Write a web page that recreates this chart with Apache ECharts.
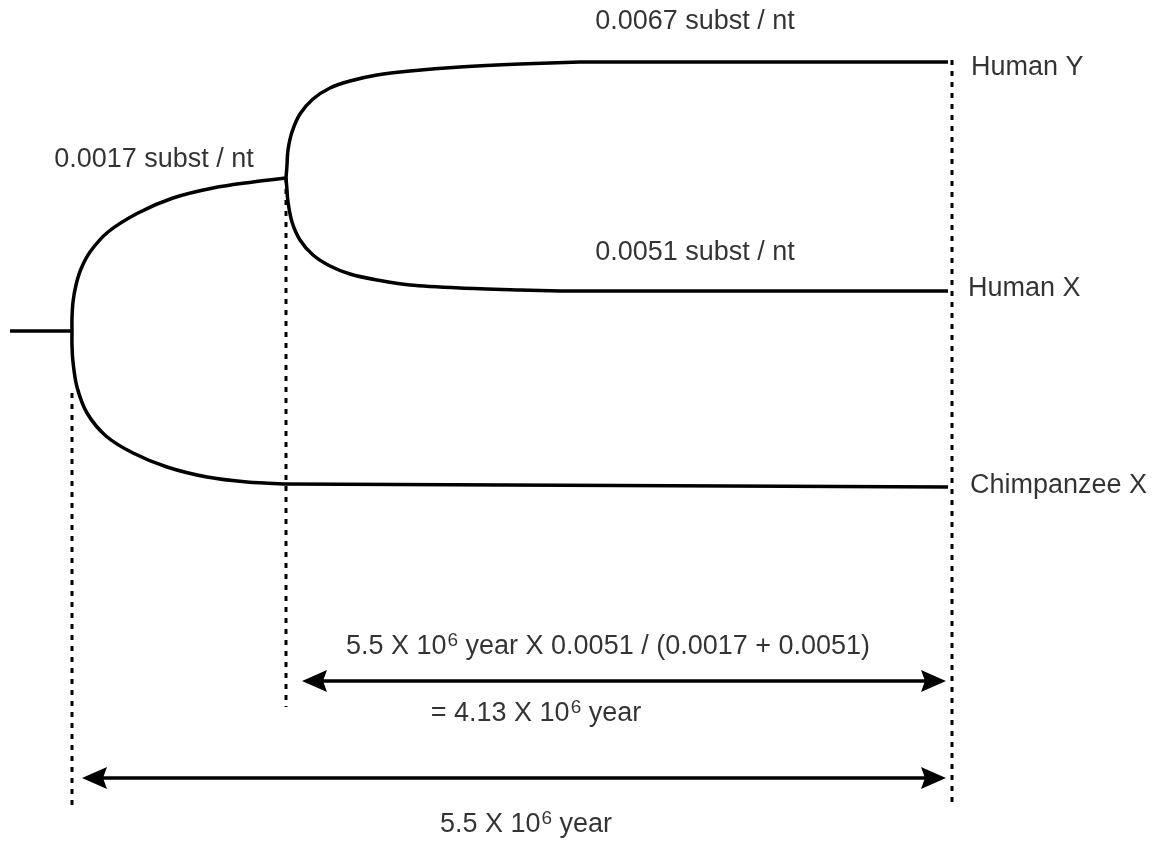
<!DOCTYPE html>
<html>
<head>
<meta charset="utf-8">
<script src="https://cdn.jsdelivr.net/npm/echarts@6/dist/echarts.min.js"></script>
<style>
  html, body { margin: 0; padding: 0; background: #fff; }
  #chart { width: 1162px; height: 843px; }
</style>
</head>
<body>
<div id="chart"></div>
<script>
// ---- data (diagram units: x across, y down) ----
const taxa = ['Human Y', 'Human X', 'Chimpanzee X'];
const substPerNt = ['0.0067', '0.0051', '0.0017']; // Human Y branch, Human X branch, ancestral branch
const splitTimeMy = '5.5';
const humanXYTimeMy = '4.13';

const rootStem = [[10, 331], [72, 331]];
const branchAncestral = [[72, 331], [72, 318], [73, 302], [76, 285], [81, 269], [90, 252], [108, 232], [138, 213], [173, 198], [213, 188], [253, 182], [286, 178]];
const branchChimpCurve = [[72, 331], [72, 345], [73, 362], [77, 387], [87, 413], [106, 436], [133, 453], [167, 467], [207, 477], [247, 482], [286, 484]];
const branchChimpStraight = [[286, 484], [948, 487]];
const branchHumanYCurve = [[286, 178], [287, 165], [288, 150], [292, 132], [300, 114], [313, 99], [330, 88], [350, 81], [377, 75], [410, 71], [460, 67], [520, 64], [580, 62]];
const branchHumanYStraight = [[580, 62], [948, 62]];
const branchHumanXCurve = [[286, 178], [287, 190], [288, 202], [292, 222], [300, 240], [313, 255], [330, 266], [350, 274], [377, 280], [410, 285], [460, 288], [520, 290], [560, 291]];
const branchHumanXStraight = [[560, 291], [948, 291]];

const guideRoot = [[72, 393], [72, 808]];
const guideNode = [[286, 178], [286, 707]];
const guideTips = [[952, 60], [952, 808]];

const spanNode = [302, 946, 681];
const spanRoot = [82, 946, 778];

// ---- styles ----
const FONT = '"Liberation Sans", Arial, Helvetica, sans-serif';
const FS = 27;
const black = '#000';

function solid(data) {
  return {
    type: 'line', data: data, symbol: 'none', silent: true,
    lineStyle: { color: black, width: 3.5, cap: 'butt', join: 'round' }, z: 3
  };
}
// smooth branch: Catmull-Rom spline through the read points, placed with the axes' scales
function curve(data) {
  return {
    type: 'custom', silent: true, z: 3,
    encode: { x: 0, y: 1 },
    data: data,
    renderItem: function (params, api) {
      if (params.dataIndex !== 0) return null;
      const p = data.map(function (d) { return api.coord(d); });
      let path = 'M' + p[0][0] + ' ' + p[0][1];
      for (let i = 0; i < p.length - 1; i++) {
        const p0 = p[Math.max(i - 1, 0)], p1 = p[i], p2 = p[i + 1], p3 = p[Math.min(i + 2, p.length - 1)];
        const c1 = [p1[0] + (p2[0] - p0[0]) / 6, p1[1] + (p2[1] - p0[1]) / 6];
        const c2 = [p2[0] - (p3[0] - p1[0]) / 6, p2[1] - (p3[1] - p1[1]) / 6];
        path += ' C' + c1[0] + ' ' + c1[1] + ' ' + c2[0] + ' ' + c2[1] + ' ' + p2[0] + ' ' + p2[1];
      }
      return {
        type: 'path',
        shape: { pathData: path },
        style: { stroke: black, lineWidth: 3.5, fill: null, lineJoin: 'round' }
      };
    }
  };
}
function dotted(data) {
  return {
    type: 'line', data: data, symbol: 'none', silent: true,
    lineStyle: { color: black, width: 3, type: [5, 6], cap: 'butt' }, z: 2
  };
}

const rich = {
  t: { fontSize: FS, fontFamily: FONT, color: black, lineHeight: 32 },
  sup: { fontSize: 19, fontFamily: FONT, color: black, lineHeight: 32, verticalAlign: 'top', padding: [0, 0, 8, 1] }
};

function textItem(x, y, text, align) {
  return {
    value: [x, y],
    label: {
      show: true, position: 'inside', align: align || 'center', verticalAlign: 'middle',
      color: black, textBorderWidth: 0, fontFamily: FONT, fontSize: FS,
      formatter: text, rich: rich
    }
  };
}

const labels = [
  textItem(695, 22, '{t|' + substPerNt[0] + ' subst / nt}'),
  textItem(154, 160, '{t|' + substPerNt[2] + ' subst / nt}'),
  textItem(695, 253, '{t|' + substPerNt[1] + ' subst / nt}'),
  textItem(971, 68, '{t|' + taxa[0] + '}', 'left'),
  textItem(968, 289, '{t|' + taxa[1] + '}', 'left'),
  textItem(970, 486, '{t|' + taxa[2] + '}', 'left'),
  textItem(608, 647, '{t|' + splitTimeMy + ' X 10}{sup|6}{t| year X ' + substPerNt[1] + ' / (' + substPerNt[2] + ' + ' + substPerNt[1] + ')}'),
  textItem(536, 714, '{t|= ' + humanXYTimeMy + ' X 10}{sup|6}{t| year}'),
  textItem(526, 825, '{t|' + splitTimeMy + ' X 10}{sup|6}{t| year}')
];

function renderArrow(params, api) {
  const y = api.value(2);
  const a = api.coord([api.value(0), y]);
  const b = api.coord([api.value(1), y]);
  const L = 25, W = 11, notch = 4;
  return {
    type: 'group',
    children: [
      { type: 'line', shape: { x1: a[0] + L - notch, y1: a[1], x2: b[0] - L + notch, y2: b[1] }, style: { stroke: black, lineWidth: 3.5 } },
      { type: 'polygon', shape: { points: [[a[0], a[1]], [a[0] + L, a[1] - W], [a[0] + L - notch, a[1]], [a[0] + L, a[1] + W]] }, style: { fill: black } },
      { type: 'polygon', shape: { points: [[b[0], b[1]], [b[0] - L, b[1] - W], [b[0] - L + notch, b[1]], [b[0] - L, b[1] + W]] }, style: { fill: black } }
    ]
  };
}

const chart = echarts.init(document.getElementById('chart'), null, { renderer: 'canvas' });
chart.setOption({
  backgroundColor: '#fff',
  animation: false,
  grid: { left: 0, right: 0, top: 0, bottom: 0 },
  xAxis: { type: 'value', min: 0, max: 1162, show: false },
  yAxis: { type: 'value', min: 0, max: 843, inverse: true, show: false },
  series: [
    solid(rootStem),
    curve(branchAncestral),
    curve(branchChimpCurve),
    solid(branchChimpStraight),
    curve(branchHumanYCurve),
    solid(branchHumanYStraight),
    curve(branchHumanXCurve),
    solid(branchHumanXStraight),
    dotted(guideRoot),
    dotted(guideNode),
    dotted(guideTips),
    {
      type: 'custom', renderItem: renderArrow, silent: true,
      encode: { x: [0, 1], y: 2 },
      data: [spanNode, spanRoot], z: 4
    },
    {
      type: 'scatter', symbolSize: 0, silent: true, data: labels, z: 5
    }
  ]
});
</script>
</body>
</html>
